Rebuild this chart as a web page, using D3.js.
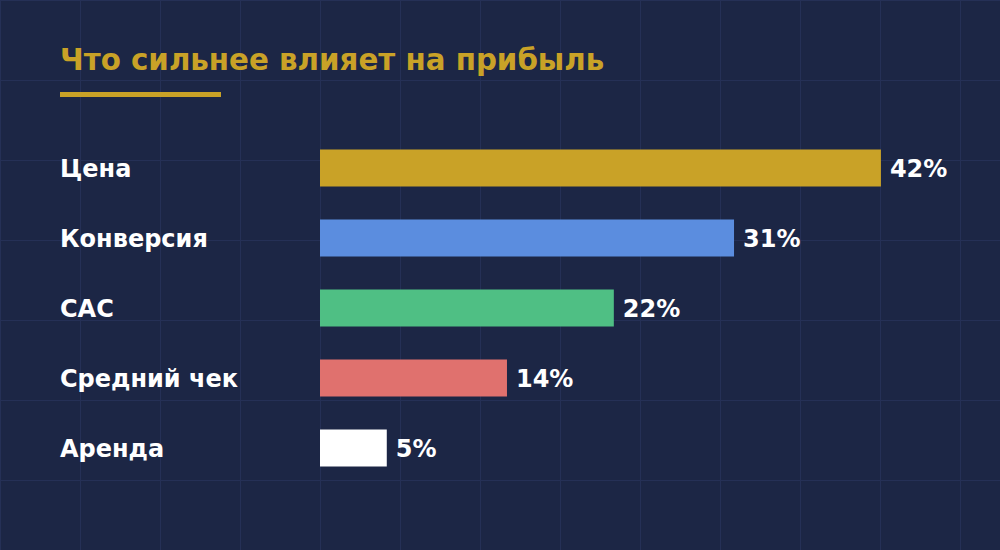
<!DOCTYPE html>
<html><head><meta charset="utf-8">
<script src="https://cdn.jsdelivr.net/npm/d3@7"></script>
<style>html,body{margin:0;padding:0;background:#1c2645;}svg{display:block;}</style>
</head><body>
<script>
const categories = ["Цена", "Конверсия", "CAC", "Средний чек", "Аренда"];
const values = [42, 31, 22, 14, 5];
const colors = ["#c9a227", "#5b8ddf", "#4fbf84", "#e0716e", "#ffffff"];
const title = "Что сильнее влияет на прибыль";

const W = 1000, H = 550;
const svg = d3.select("body").append("svg").attr("width", W).attr("height", H);
svg.append("rect").attr("width", W).attr("height", H).attr("fill", "#1c2645");

// grid
const g = svg.append("g").attr("stroke", "#253056").attr("stroke-width", 1);
d3.range(0, W + 1, 80).forEach(x => g.append("line").attr("x1", x + 0.5).attr("x2", x + 0.5).attr("y1", 0).attr("y2", H));
d3.range(0, H + 1, 80).forEach(y => g.append("line").attr("y1", y + 0.5).attr("y2", y + 0.5).attr("x1", 0).attr("x2", W));

svg.append("text").attr("x", 60).attr("y", 70).text(title)
  .attr("fill", "#c9a227").attr("font-family", "DejaVu Sans").attr("font-weight", "bold").attr("font-size", 29.3);
svg.append("rect").attr("x", 60).attr("y", 92).attr("width", 161).attr("height", 5).attr("fill", "#c9a227");

const x = d3.scaleLinear().domain([0, 45]).range([320, 921]);
const y = d3.scaleBand().domain(categories).range([133, 483]).paddingInner(0.4714).paddingOuter(0.2357);

const rows = svg.selectAll("g.row").data(categories).join("g").attr("class", "row");
rows.append("rect").attr("x", x(0)).attr("y", d => y(d)).attr("height", y.bandwidth())
  .attr("width", (d, i) => x(values[i]) - x(0)).attr("fill", (d, i) => colors[i]);
rows.append("text").attr("x", 60).attr("y", d => y(d) + y.bandwidth() / 2).attr("dy", "0.36em")
  .text(d => d).attr("fill", "#ffffff").attr("font-family", "DejaVu Sans").attr("font-weight", "bold").attr("font-size", 24);
rows.append("text").attr("x", (d, i) => x(values[i]) + 9).attr("y", d => y(d) + y.bandwidth() / 2).attr("dy", "0.36em")
  .text((d, i) => values[i] + "%").attr("fill", "#ffffff").attr("font-family", "DejaVu Sans").attr("font-weight", "bold").attr("font-size", 24);
</script>
</body></html>
